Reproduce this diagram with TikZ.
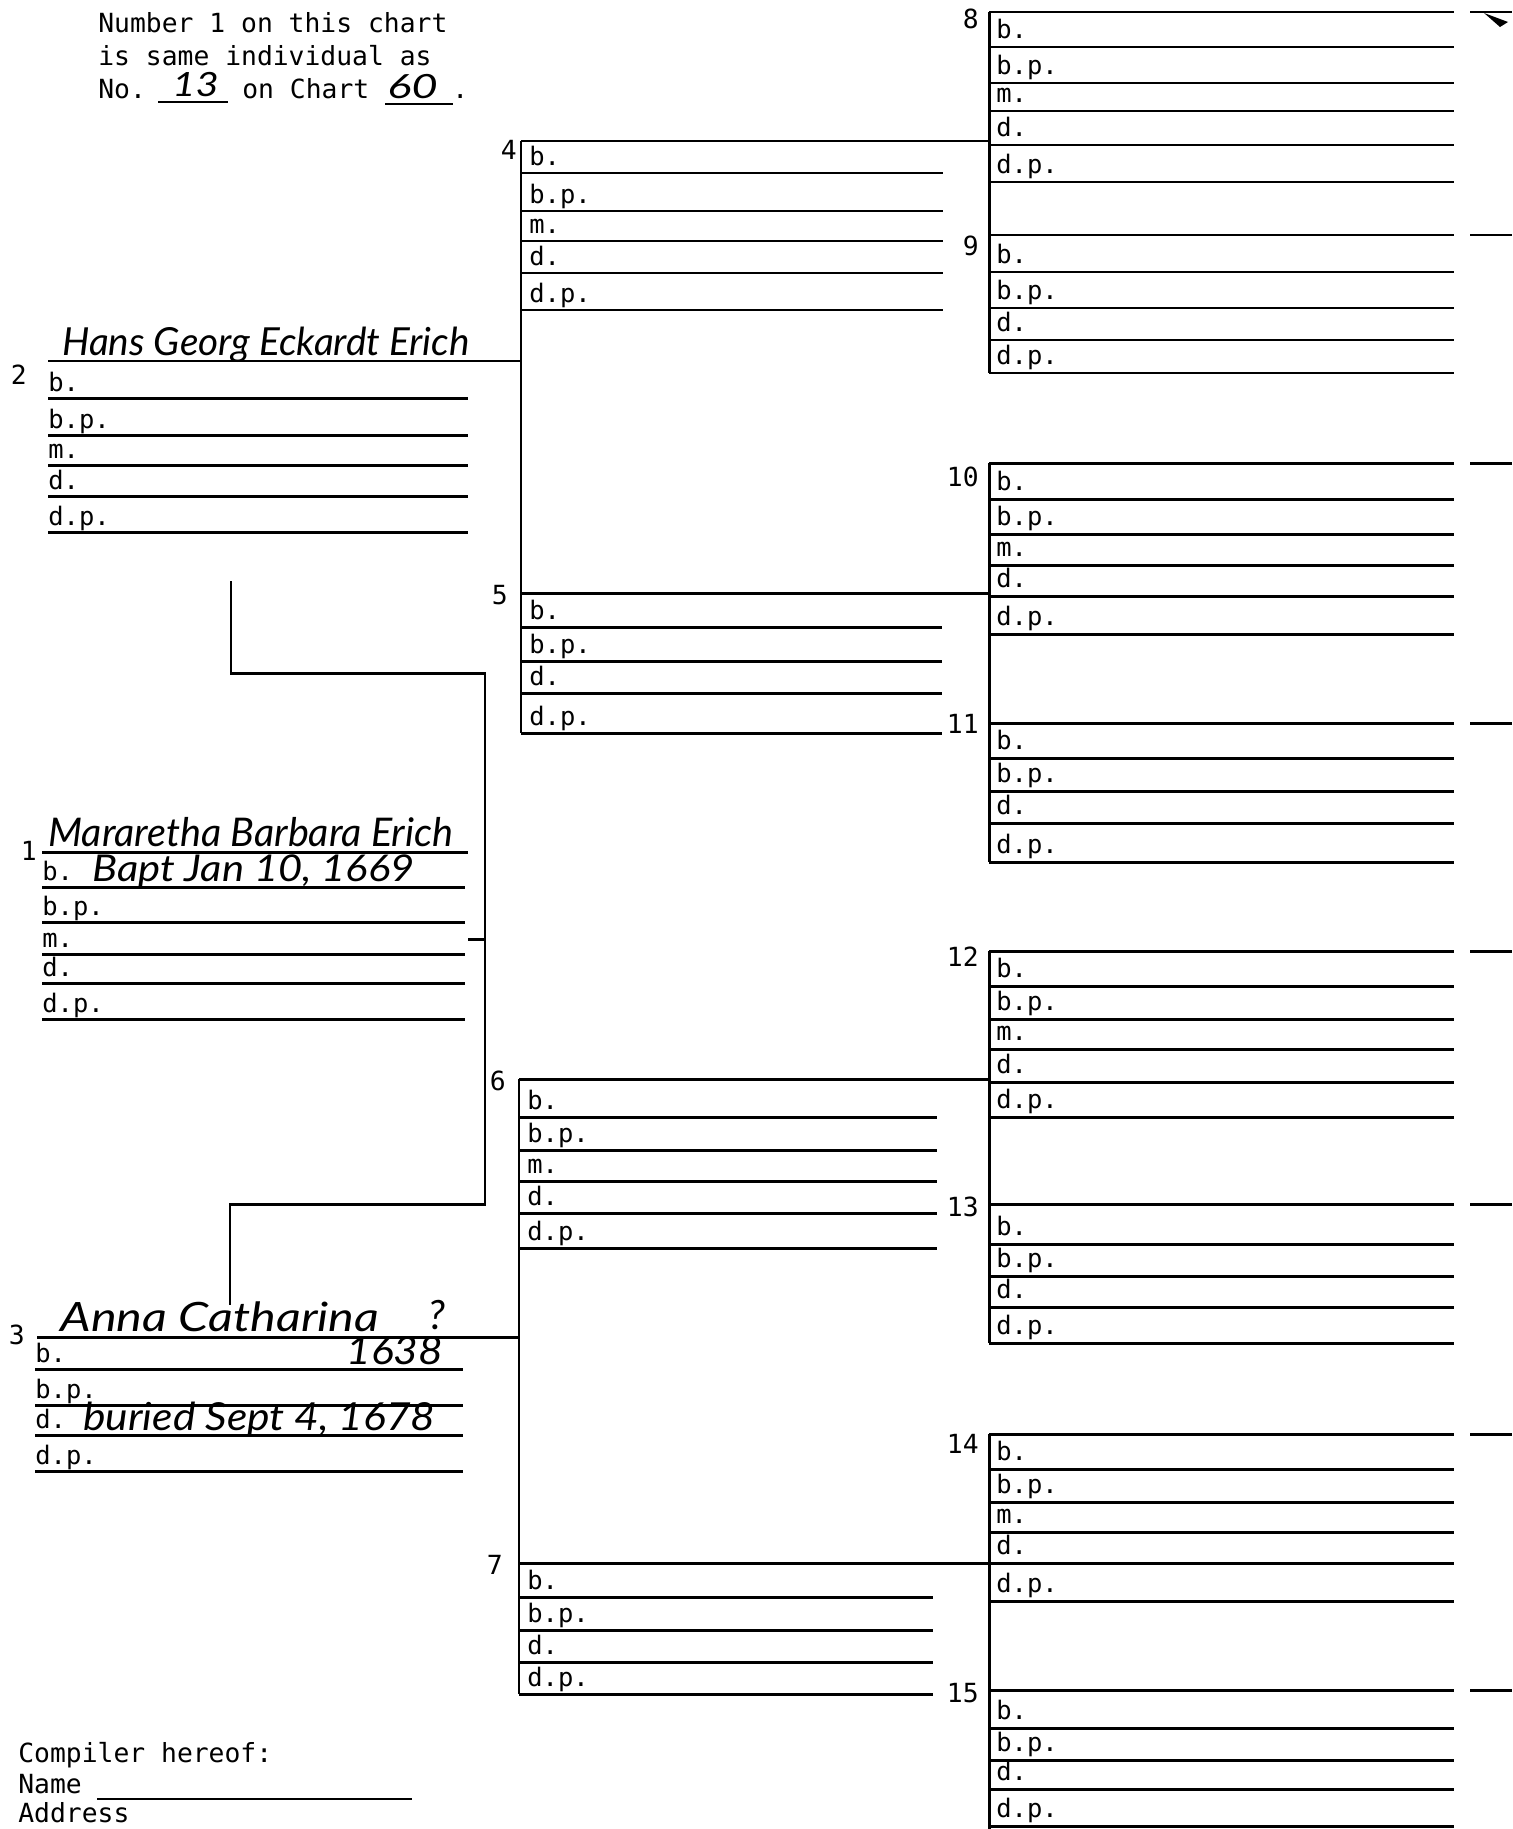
\documentclass[tikz,border=0pt]{standalone}
\usepackage{fontspec}
\usetikzlibrary{arrows.meta}
\newfontfamily\formfont{DejaVu Sans Mono}
\newfontfamily\handfont{Lato}
\tikzset{
  formline/.style={line width=1.7pt},
  lbl/.style={anchor=base west, inner sep=0pt, font=\formfont\fontsize{14.5}{15}\selectfont},
  txt/.style={anchor=base west, inner sep=0pt, font=\formfont\fontsize{15}{16}\selectfont},
  num/.style={anchor=east, inner sep=0pt, font=\formfont\fontsize{15}{16}\selectfont},
  hand/.style={anchor=base west, inner sep=0pt, font=\handfont\itshape\fontsize{#1}{#1}\selectfont},
  hand/.default=20
}
\begin{document}
\begin{tikzpicture}[x=0.02cm, y=-0.02cm]
  \useasboundingbox (0,0) rectangle (1512,1829);
  % header
  \node[txt] (hd1) at (98,32) {Number 1 on this chart};
  \node[txt] (hd2) at (98,65) {is same individual as};
  \node[txt] (hd3) at (98,98) {No.};
  \node[txt] (hd4) at (242,98) {on Chart};
  \node[txt] (hd5) at (452,98) {.};
  \node[hand=19, xscale=1.2, transform shape] (chno) at (172,96) {13};
  \node[hand=19, xscale=1.35, transform shape] (chart) at (387,98) {60};
  \draw[line width=1.2pt] (158,102) -- (228,102);
  \draw[line width=1.2pt] (385,104) -- (453,104);
  % person 2
  \node[num] (no2) at (27,375) {2};
  \node[hand=22] (n2) at (62,355) {Hans Georg Eckardt Erich};
  \coordinate (j2) at (521,361);
  \draw[formline] (48,361) -- (j2);
  \foreach \y/\t in {398/b., 435/b.p., 465/m., 496/d., 532/d.p.} {
    \draw[formline] (48,\y) -- (468,\y);
    \node[lbl] at (48,\y-7) {\t};
  }
  % person 1
  \node[num] (no1) at (37,851) {1};
  \node[hand=22.5] (n1) at (48,846) {Mararetha Barbara Erich};
  \node[hand=21, xscale=1.13, transform shape] (b1) at (92,881) {Bapt Jan 10, 1669};
  \draw[formline] (42,852) -- (468,852);
  \foreach \y/\t in {887/b., 922/b.p., 954/m., 983/d., 1019/d.p.} {
    \draw[formline] (42,\y) -- (465,\y);
    \node[lbl] at (42,\y-7) {\t};
  }
  % person 3
  \node[num] (no3) at (25,1335) {3};
  \node[hand=23, xscale=1.2, transform shape] (n3) at (60,1331) {Anna Catharina};
  \node[hand=23] (q3) at (428,1329) {?};
  \node[hand=22, xscale=1.1, transform shape] (b3) at (346,1364) {1638};
  \node[hand=22, xscale=1.1, transform shape] (d3) at (83,1430) {buried Sept 4, 1678};
  \coordinate (j3) at (519,1337);
  \draw[formline] (37,1337) -- (j3);
  \foreach \y/\t in {1369/b., 1405/b.p., 1435/d., 1471/d.p.} {
    \draw[formline] (35,\y) -- (463,\y);
    \node[lbl] at (35,\y-7) {\t};
  }
  % connector 2 - 1 - 3
  \coordinate (c2) at (231,581);
  \coordinate (c3) at (230,1305);
  \draw[formline] (c2) |- (485,673) |- (230,1204) -- (c3);
  \draw[formline] (468,939) -- (485,939);
  % parents 4 and 5
  \draw[formline] (521,141) -- (521,733);
  \node[num] (no4) at (517,150) {4};
  \draw[formline] (521,141) -- (989,141);
  \foreach \y/\t in {173/b., 211/b.p., 241/m., 273/d., 310/d.p.} {
    \draw[formline] (521,\y) -- (943,\y);
    \node[lbl] at (529,\y-8) {\t};
  }
  \node[num] (no5) at (508,595) {5};
  \draw[formline] (521,593) -- (989,593);
  \foreach \y/\t in {627/b., 661/b.p., 693/d., 733/d.p.} {
    \draw[formline] (521,\y) -- (942,\y);
    \node[lbl] at (529,\y-8) {\t};
  }
  % parents 6 and 7
  \draw[formline] (519,1079) -- (519,1694);
  \node[num] (no6) at (506,1081) {6};
  \draw[formline] (519,1079) -- (989,1079);
  \foreach \y/\t in {1117/b., 1150/b.p., 1181/m., 1213/d., 1248/d.p.} {
    \draw[formline] (519,\y) -- (937,\y);
    \node[lbl] at (527,\y-8) {\t};
  }
  \node[num] (no7) at (503,1565) {7};
  \draw[formline] (519,1563) -- (989,1563);
  \foreach \y/\t in {1597/b., 1630/b.p., 1662/d., 1694/d.p.} {
    \draw[formline] (519,\y) -- (933,\y);
    \node[lbl] at (527,\y-8) {\t};
  }
  % grandparents 8 - 15
  \draw[formline] (989,12) -- (989,373);
  \draw[formline] (989,463) -- (989,862);
  \draw[formline] (989,951) -- (989,1343);
  \draw[formline] (989,1434) -- (989,1829);
  \foreach \n/\ny/\top/\rows in {
      8/19/12/{47/b., 83/b.p., 111/m., 145/d., 182/d.p.},
      9/246/235/{272/b., 308/b.p., 340/d., 373/d.p.},
      10/477/463/{499/b., 534/b.p., 565/m., 596/d., 634/d.p.},
      11/724/723/{758/b., 791/b.p., 823/d., 862/d.p.},
      12/957/951/{986/b., 1019/b.p., 1049/m., 1082/d., 1117/d.p.},
      13/1207/1204/{1244/b., 1276/b.p., 1307/d., 1343/d.p.},
      14/1444/1434/{1469/b., 1502/b.p., 1532/m., 1563/d., 1601/d.p.},
      15/1693/1690/{1728/b., 1760/b.p., 1789/d., 1826/d.p.}} {
    \node[num] (no\n) at (979,\ny) {\n};
    \draw[formline] (989,\top) -- (1454,\top);
    \draw[formline] (1470,\top) -- (1512,\top);
    \foreach \y/\t in \rows {
      \draw[formline] (989,\y) -- (1454,\y);
      \node[lbl] at (996,\y-9) {\t};
    }
  }
  \fill (1484,13) -- (1508,22) -- (1500,27) -- cycle;
  % compiler
  \node[txt] (cmp) at (18,1762) {Compiler hereof:};
  \node[txt] (nm) at (18,1793) {Name};
  \draw[line width=1.2pt] (97,1799) -- (412,1799);
  \node[txt] (adr) at (18,1822) {Address};
\end{tikzpicture}
\end{document}
